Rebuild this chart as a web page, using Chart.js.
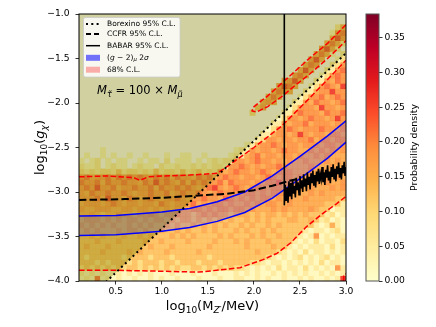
<!DOCTYPE html>
<html>
<head>
<meta charset="utf-8">
<script src="https://cdn.jsdelivr.net/npm/chart.js@4.4.1/dist/chart.umd.min.js"></script>
<style>
html,body{margin:0;padding:0;background:#fff;}
#wrap{position:relative;width:436px;height:327px;}
#wrap canvas{position:absolute;left:0;top:0;}
</style>
</head>
<body>
<div id="wrap"><canvas id="main" width="436" height="327"></canvas><canvas id="cbar" width="436" height="327"></canvas></div>
<script>
// ---------------- data ----------------
const xRange = [0.1, 3.0];
const yRange = [-4.0, -1.0];
const xTicks = [0.5, 1.0, 1.5, 2.0, 2.5, 3.0];
const yTicks = [-4.0, -3.5, -3.0, -2.5, -2.0, -1.5, -1.0];
const cbTicks = [0, 0.05, 0.10, 0.15, 0.20, 0.25, 0.30, 0.35];
const vMax = 0.384;
// density level per character (index = digit), '.' = empty bin
const densityLevels = [0, 0.02, 0.055, 0.09, 0.128, 0.16, 0.188, 0.22, 0.265, 0.32];
// 50 x 50 bins, first string = top row (y ~ -1.03), columns left (x=0.1) to right (x=3.0)
const densityRows = [
"........................................" + "..........",
"........................................" + "..........",
"........................................" + "........25",
"........................................" + ".......167",
"........................................" + ".......586",
"........................................" + "......5752",
"........................................" + ".....6852.",
"........................................" + "....5751.2",
"........................................" + "...685..13",
"........................................" + "..576..236",
"........................................" + ".585..2267",
"........................................" + "675..13676",
".............................." + "........56" + "85..226576",
".............................." + ".......687" + "5..1367658",
".............................." + "......5765" + "..22566866",
".............................." + ".....575.." + ".136675676",
".............................." + "....565..." + "2265766567",
".............................." + "...46....1" + "3666586656",
".............................." + "..3.....22" + "5766657667",
".............................." + ".......136" + "6567665686",
".............................." + "......2265" + "6675666566",
".............................." + ".....13667" + "6566676656",
".............................." + "....225665" + "6865665665",
".............................." + "...2366566" + "5667566566",
".............................." + ".125667656" + "6566656656",
"....1....." + ".........." + ".........1" + "2265665676" + "6556565656",
".1..1.1..1" + "..1...1..1" + "1..1....12" + "2567566566" + "5655656555",
"1.12.1.11." + ".1.11.2.11" + "1.1.121226" + "6567665656" + "5565556565",
"2112.1211." + "1211.21121" + "1212122166" + "7656566765" + "5556555655",
"3232332423" + "3232423324" + "2342326567" + "6656765666" + "5556565556",
"6756675767" + "6765767576" + "6576756766" + "5665676566" + "5656556565",
"7667576676" + "6576867657" + "5767667576" + "6656566756" + "6555656556",
"6768667566" + "7667576676" + "7656786567" + "6566656656" + "5656555656",
"6576676676" + "5667667567" + "6676567666" + "5665656665" + "5556565555",
"6667586657" + "6567656676" + "5667665765" + "6565665656" + "5565555544",
"5666567656" + "6566576566" + "6756566565" + "5656566556" + "5555554442",
"6556665566" + "5665656565" + "5665656656" + "6565556565" + "5556544122",
"5565455655" + "4556545565" + "5456565545" + "5545455454" + "5454442312",
"4555454545" + "5454554545" + "5454545454" + "4545454445" + "5445423121",
"5454545445" + "4545445454" + "4545454544" + "5454454544" + "4444212521",
"4545444545" + "5454454454" + "5445454445" + "4544545444" + "4421221231",
"4454544454" + "4545444545" + "4544445454" + "4454544544" + "4212612122",
"4445444544" + "4454454444" + "5444454445" + "4544454444" + "2121312213",
"4544454444" + "4445444544" + "4444544444" + "4544445442" + "1212221312",
"4444544445" + "4544445444" + "4454444444" + "4445444321" + "2131221212",
"4344444434" + "4443444344" + "4444344444" + "4444432121" + "2312123121",
"4443434443" + "4344434434" + "4434443444" + "4433212212" + "1212131221",
"3434343434" + "4343434343" + "3443434343" + "3212121312" + "2131212162",
"2121211212" + "1212111211" + "1211121112" + "1212112121" + "2121121212",
"1217121211" + "2112121121" + "1121112112" + "2112121121" + "1212112128"
];
// Borexino 95% C.L. (dotted)
const borexinoX = [0.1, 3.0];
const borexinoY = [-4.30, -1.44];
// CCFR 95% C.L. (dashed)
const ccfrX = [0.1, 0.6, 1.0, 1.4, 1.7, 2.0, 2.2, 2.4, 2.5];
const ccfrY = [-3.09, -3.08, -3.065, -3.04, -3.02, -2.98, -2.93, -2.87, -2.85];
// BABAR 95% C.L. (solid)
const babarX = [2.33,2.33,2.34,2.35,2.36,2.37,2.38,2.39,2.40,2.41,2.42,2.43,2.44,2.45,2.46,2.47,2.48,2.49,2.50,2.51,2.52,2.53,2.54,2.55,2.56,2.57,2.58,2.59,2.60,2.61,2.62,2.63,2.64,2.65,2.66,2.67,2.68,2.69,2.70,2.71,2.72,2.73,2.74,2.75,2.76,2.77,2.78,2.79,2.80,2.81,2.82,2.83,2.84,2.85,2.86,2.87,2.88,2.89,2.90,2.91,2.92,2.93,2.94,2.95,2.96,2.97,2.98,2.99,3.00];
const babarY = [-1.0,-3.15,-2.92,-3.10,-2.95,-3.12,-2.88,-3.05,-2.90,-3.08,-2.86,-3.02,-2.93,-3.06,-2.84,-2.98,-2.89,-3.03,-2.82,-2.96,-2.87,-3.00,-2.80,-2.94,-2.85,-2.99,-2.78,-2.92,-2.83,-2.97,-2.79,-2.90,-2.76,-2.93,-2.81,-2.95,-2.77,-2.88,-2.74,-2.91,-2.80,-2.86,-2.72,-2.89,-2.78,-2.92,-2.75,-2.84,-2.70,-2.87,-2.77,-2.90,-2.72,-2.83,-2.69,-2.85,-2.74,-2.88,-2.71,-2.80,-2.67,-2.84,-2.73,-2.86,-2.70,-2.79,-2.66,-2.82,-2.72];
// (g-2)_mu 2 sigma band
const g2X = [0.1, 0.5, 1.0, 1.3, 1.6, 1.9, 2.2, 2.5, 2.8, 3.0];
const g2Upper = [-3.27, -3.265, -3.225, -3.185, -3.11, -3.0, -2.82, -2.6, -2.37, -2.2];
const g2Lower = [-3.49, -3.48, -3.44, -3.40, -3.33, -3.23, -3.07, -2.85, -2.62, -2.44];
// 68% C.L. contours
const cl68UpperX = [0.1, 0.4, 0.7, 0.76, 0.85, 1.0, 1.3, 1.6, 1.7, 2.0, 2.3, 2.6, 3.0];
const cl68UpperY = [-2.83, -2.82, -2.84, -2.87, -2.83, -2.82, -2.81, -2.79, -2.72, -2.5, -2.26, -1.95, -1.52];
const cl68LowerX = [0.1, 0.5, 1.0, 1.4, 1.5, 1.85, 2.1, 2.25, 2.4, 2.57, 2.75, 2.9, 3.0];
const cl68LowerY = [-3.88, -3.88, -3.89, -3.90, -3.89, -3.85, -3.76, -3.69, -3.57, -3.39, -3.24, -3.13, -3.05];
const cl68IslandX = [3.0, 2.8, 2.6, 2.45, 2.3, 2.15, 2.05, 1.99, 1.98, 2.03, 2.15, 2.3, 2.45, 2.6, 2.8, 3.0];
const cl68IslandY = [-1.12, -1.33, -1.5, -1.64, -1.78, -1.92, -2.0, -2.05, -2.09, -2.1, -2.04, -1.93, -1.8, -1.68, -1.5, -1.3];
const cl68CornerX = [2.975, 2.975, 3.0];
const cl68CornerY = [-4.0, -3.93, -3.92];

// ---------------- helpers ----------------
const FAM = '"DejaVu Sans", sans-serif';
const YLORRD = [[255,255,204],[255,237,160],[254,217,118],[254,178,76],[253,141,60],[252,78,42],[227,26,28],[189,0,38],[128,0,38]];
function cmapRGB(t) {
  t = Math.max(0, Math.min(1, t));
  const f = t * 8, k = Math.min(7, Math.floor(f)), u = f - k;
  const a = YLORRD[k], b = YLORRD[k + 1];
  return [0,1,2].map(q => Math.round(a[q] + (b[q] - a[q]) * u));
}
function cmap(t, alpha) { return 'rgba(' + cmapRGB(t).join(',') + ',' + (alpha == null ? 1 : alpha) + ')'; }
function pts(xs, ys) { return xs.map((x, k) => ({x: x, y: ys[k]})); }
function lineDs(xs, ys, o) {
  return Object.assign({type: 'line', data: pts(xs, ys), pointRadius: 0, pointHoverRadius: 0,
    fill: false, tension: 0, clip: 0, borderCapStyle: 'butt', borderJoinStyle: 'miter'}, o);
}
const fmt = v => (v < -1e-9 ? '\u2212' : '') + Math.abs(v).toFixed(1);

// ---------------- datasets ----------------
const nRows = densityRows.length;
const nCols = 50;
const cellW = (xRange[1] - xRange[0]) / nCols;
const cellH = (yRange[1] - yRange[0]) / nRows;
const datasets = [];
densityRows.forEach((row, r) => {
  const j = nRows - 1 - r;
  const y0 = yRange[0] + j * cellH, y1 = y0 + cellH;
  const data = [], colors = [];
  for (let i = 0; i < Math.min(row.length, nCols); i++) {
    const c = row[i];
    if (c === '.') continue;
    data.push({x: xRange[0] + (i + 0.5) * cellW, y: [y0, y1]});
    colors.push(cmap(densityLevels[+c] / vMax, 0.9));
  }
  datasets.push({type: 'bar', data: data, backgroundColor: colors, borderWidth: 0,
    grouped: false, barPercentage: 1, categoryPercentage: 1, order: 20});
});
datasets.push(lineDs(borexinoX, borexinoY, {borderWidth: 0, borderColor: 'rgba(0,0,0,0)', fill: 'end', backgroundColor: 'rgba(128,128,0,0.37)', order: 15}));
datasets.push(lineDs(g2X, g2Upper, {borderColor: '#0000ff', borderWidth: 1.5, fill: '+1', backgroundColor: 'rgba(40,40,255,0.18)', order: 10}));
datasets.push(lineDs(g2X, g2Lower, {borderColor: '#0000ff', borderWidth: 1.5, order: 10}));
const redDash = {borderColor: '#ff0000', borderWidth: 1.5, borderDash: [5.5, 2.4], order: 5};
datasets.push(lineDs(cl68UpperX, cl68UpperY, redDash));
datasets.push(lineDs(cl68LowerX, cl68LowerY, redDash));
datasets.push(lineDs(cl68IslandX, cl68IslandY, redDash));
datasets.push(lineDs(cl68CornerX, cl68CornerY, redDash));
datasets.push(lineDs(borexinoX, borexinoY, {borderColor: '#000', borderWidth: 2, borderDash: [2, 3.3], order: 3}));
datasets.push(lineDs(ccfrX, ccfrY, {borderColor: '#000', borderWidth: 2, borderDash: [7.4, 3.2], order: 3}));
datasets.push(lineDs(babarX, babarY, {borderColor: '#000', borderWidth: 1.6, order: 2}));

// ---------------- text drawing ----------------
function runsWidth(ctx, runs) { let w = 0; for (const r of runs) { ctx.font = r[1]; w += ctx.measureText(r[0]).width; } return w; }
function drawRuns(ctx, runs, x, y) {
  let cx = x;
  for (const r of runs) { ctx.font = r[1]; ctx.fillText(r[0], cx, y + (r[2] || 0)); cx += ctx.measureText(r[0]).width; }
  return cx;
}
const F = (s, it) => (it ? 'italic ' : '') + s + 'px ' + FAM;

const mainPlugin = {
  id: 'mainDecor',
  afterDraw(chart) {
    const ctx = chart.ctx, a = chart.chartArea;
    ctx.save();
    // frame
    ctx.strokeStyle = '#000'; ctx.lineWidth = 1; ctx.setLineDash([]);
    ctx.strokeRect(a.left, a.top, a.right - a.left, a.bottom - a.top);
    ctx.fillStyle = '#000'; ctx.textBaseline = 'alphabetic'; ctx.textAlign = 'left';
    // x title
    const xr = [['log', F(13)], ['10', F(9), 3], ['(M', F(13)], ['Z\u2032', F(9, true), 3], ['/MeV)', F(13)]];
    drawRuns(ctx, xr, (a.left + a.right) / 2 - runsWidth(ctx, xr) / 2, 310);
    // y title
    const yr = [['log', F(13)], ['10', F(9), 3], ['(', F(13)], ['g', F(13, true)], ['\u03c7', F(9, true), 3], [')', F(13)]];
    ctx.save(); ctx.translate(44, (a.top + a.bottom) / 2); ctx.rotate(-Math.PI / 2);
    drawRuns(ctx, yr, -runsWidth(ctx, yr) / 2, 0); ctx.restore();
    // annotation
    const an = [['M', F(11.5, true)], ['\u03c4\u0303', F(8, true), 2.6], [' = 100 \u00d7 ', F(11.5)], ['M', F(11.5, true)], ['\u03bc\u0303', F(8, true), 2.6]];
    drawRuns(ctx, an, a.left + 18, a.top + 80);
    // legend
    const bx = a.left + 4.5, by = a.top + 3.5, bw = 96.5, bh = 59.5;
    ctx.beginPath();
    if (ctx.roundRect) ctx.roundRect(bx, by, bw, bh, 2); else ctx.rect(bx, by, bw, bh);
    ctx.fillStyle = 'rgba(255,255,255,0.85)'; ctx.fill();
    ctx.strokeStyle = '#cccccc'; ctx.lineWidth = 0.8; ctx.stroke();
    const hx0 = a.left + 7, hx1 = a.left + 21, tx = a.left + 28;
    const ly = [10, 20, 31.7, 43.8, 55.7].map(d => a.top + d);
    const seg = (yy, dash, lw) => { ctx.beginPath(); ctx.setLineDash(dash); ctx.lineWidth = lw; ctx.strokeStyle = '#000'; ctx.moveTo(hx0, yy); ctx.lineTo(hx1, yy); ctx.stroke(); };
    seg(ly[0], [2, 3.3], 2); seg(ly[1], [5, 3], 2); seg(ly[2], [], 1.5);
    ctx.setLineDash([]);
    ctx.fillStyle = 'rgba(0,0,255,0.55)'; ctx.fillRect(hx0, ly[3] - 3, 14, 6);
    ctx.fillStyle = 'rgba(255,0,0,0.3)'; ctx.fillRect(hx0, ly[4] - 3, 14, 6);
    ctx.fillStyle = '#000'; ctx.textBaseline = 'middle';
    ctx.font = F(7.5);
    ctx.fillText('Borexino 95% C.L.', tx, ly[0]);
    ctx.fillText('CCFR 95% C.L.', tx, ly[1]);
    ctx.fillText('BABAR 95% C.L.', tx, ly[2]);
    drawRuns(ctx, [['(', F(7.5)], ['g', F(7.5, true)], [' \u2212 2)', F(7.5)], ['\u03bc', F(5.3, true), 2], [' 2', F(7.5)], ['\u03c3', F(7.5, true)]], tx, ly[3]);
    ctx.font = F(7.5);
    ctx.fillText('68% C.L.', tx, ly[4]);
    ctx.restore();
  }
};

const tickFont = {family: FAM, size: 9.2};
new Chart(document.getElementById('main'), {
  type: 'bar',
  data: {datasets: datasets},
  options: {
    responsive: false, animation: false, events: [],
    layout: {padding: {left: 0, top: 14, right: 90, bottom: 0}},
    plugins: {legend: {display: false}, tooltip: {enabled: false}},
    scales: {
      x: {type: 'linear', min: xRange[0], max: xRange[1], offset: false,
        afterBuildTicks: s => { s.ticks = xTicks.map(v => ({value: v})); },
        afterFit: s => { s.height = 46; },
        ticks: {font: tickFont, color: '#000', padding: 1.5, maxRotation: 0, autoSkip: false, callback: v => fmt(v)},
        grid: {display: true, drawOnChartArea: false, drawTicks: true, tickLength: 3.5, color: '#000', lineWidth: 0.8, offset: false},
        border: {display: false}},
      y: {type: 'linear', min: yRange[0], max: yRange[1],
        afterBuildTicks: s => { s.ticks = yTicks.map(v => ({value: v})); },
        afterFit: s => { s.width = 79; },
        ticks: {font: tickFont, color: '#000', padding: 6, autoSkip: false, callback: v => fmt(v)},
        grid: {display: true, drawOnChartArea: false, drawTicks: true, tickLength: 3.5, color: '#000', lineWidth: 0.8},
        border: {display: false}}
    }
  },
  plugins: [mainPlugin]
});

// ---------------- colorbar ----------------
const cbPlugin = {
  id: 'cbDecor',
  beforeDatasetsDraw(chart) {
    const ctx = chart.ctx, a = chart.chartArea, y = chart.scales.y;
    const y0 = y.getPixelForValue(0), y1 = y.getPixelForValue(vMax);
    const g = ctx.createLinearGradient(0, y0, 0, y1);
    YLORRD.forEach((c, k) => g.addColorStop(k / 8, 'rgb(' + c.join(',') + ')'));
    ctx.save(); ctx.fillStyle = g; ctx.fillRect(a.left, y1, a.right - a.left, y0 - y1); ctx.restore();
  },
  afterDraw(chart) {
    const ctx = chart.ctx, a = chart.chartArea;
    ctx.save();
    ctx.strokeStyle = '#555'; ctx.lineWidth = 1;
    ctx.strokeRect(a.left, a.top, a.right - a.left, a.bottom - a.top);
    ctx.fillStyle = '#000'; ctx.font = F(9.4); ctx.textAlign = 'center'; ctx.textBaseline = 'middle';
    ctx.translate(a.right + 36, (a.top + a.bottom) / 2); ctx.rotate(-Math.PI / 2);
    ctx.fillText('Probability density', 0, 0);
    ctx.restore();
  }
};
new Chart(document.getElementById('cbar'), {
  type: 'bar',
  data: {labels: [''], datasets: []},
  options: {
    responsive: false, animation: false, events: [],
    layout: {padding: {left: 366, top: 14, right: 0, bottom: 46}},
    plugins: {legend: {display: false}, tooltip: {enabled: false}},
    scales: {
      x: {display: false},
      y: {position: 'right', min: 0, max: vMax,
        afterBuildTicks: s => { s.ticks = cbTicks.map(v => ({value: v})); },
        afterFit: s => { s.width = 57; },
        ticks: {font: tickFont, color: '#000', padding: 2, autoSkip: false, callback: v => v.toFixed(2)},
        grid: {display: true, drawOnChartArea: false, drawTicks: true, tickLength: 3.5, color: '#000', lineWidth: 0.8},
        border: {display: false}}
    }
  },
  plugins: [cbPlugin]
});
</script>
</body>
</html>
